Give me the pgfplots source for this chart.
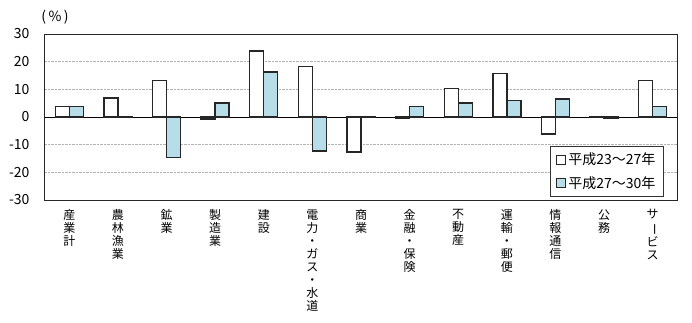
\documentclass[border=0pt]{standalone}
\usepackage{pgfplots}
\pgfplotsset{compat=1.18}
\usepackage{fontspec}
\setmainfont{Noto Sans CJK JP}
\definecolor{barblue}{RGB}{183,221,232}
\definecolor{edge}{RGB}{38,38,38}
\newcommand\cho{\rotatebox[origin=c]{-90}{ー}}
\begin{document}
\begin{tikzpicture}
\begin{axis}[
  name=ax, at={(0,0)}, anchor=south west,
  scale only axis, width=632pt, height=166pt,
  xmin=-0.5, xmax=12.5, ymin=-30, ymax=30,
  ytick={-30,-20,...,30},
  xtick={0,...,12},
  xticklabels={
    {産\\業\\計},{農\\林\\漁\\業},{鉱\\業},{製\\造\\業},{建\\設},
    {電\\力\\・\\ガ\\ス\\・\\水\\道},{商\\業},{金\\融\\・\\保\\険},
    {不\\動\\産},{運\\輸\\・\\郵\\便},{情\\報\\通\\信},{公\\務},
    {サ\\\cho\\ビ\\ス}},
  xticklabel style={font=\fontsize{12}{13}\selectfont, align=center, anchor=north, yshift=-6pt},
  yticklabel style={font=\fontsize{14}{16}\selectfont, xshift=-12pt},
  /pgf/number format/assume math mode=true,
  major tick length=0pt,
  ymajorgrids,
  grid style={densely dotted, gray!60, line width=0.6pt},
  extra y ticks={0}, extra y tick labels={},
  extra y tick style={grid=major, grid style={solid, black, line width=0.8pt}},
  axis line style={black!85, line width=1pt},
  ybar=0pt, bar width=14pt,
  legend cell align=left,
  legend style={at={(0.979,0.018)}, anchor=south east, draw=black!80, line width=0.6pt,
    font=\fontsize{14}{16}\selectfont, inner xsep=6pt, inner ysep=5pt, row sep=6pt},
  legend image code/.code={\draw[#1, line width=1pt] (0pt,-4.5pt) rectangle (9pt,4.5pt);},
]
\addplot[fill=white, draw=edge, line width=1.4pt] coordinates {
 (0,3.8) (1,6.8) (2,13.1) (3,-0.7) (4,23.8) (5,18.2) (6,-12.6)
 (7,-0.4) (8,10.4) (9,15.7) (10,-6.1) (11,0.2) (12,13.1)};
\addplot[fill=barblue, draw=edge, line width=1.4pt] coordinates {
 (0,3.8) (1,0.2) (2,-14.6) (3,5.1) (4,16.3) (5,-12.3) (6,-0.2)
 (7,3.8) (8,5.1) (9,6.0) (10,6.5) (11,-0.3) (12,3.8)};
\legend{平成23～27年,平成27～30年}
\end{axis}
\node[font=\fontsize{14}{16}\selectfont] at (10pt,183pt) {(\,\%\,)};
\pgfresetboundingbox
\path (-45pt,-122pt) rectangle (647pt,200pt);
\end{tikzpicture}
\end{document}
